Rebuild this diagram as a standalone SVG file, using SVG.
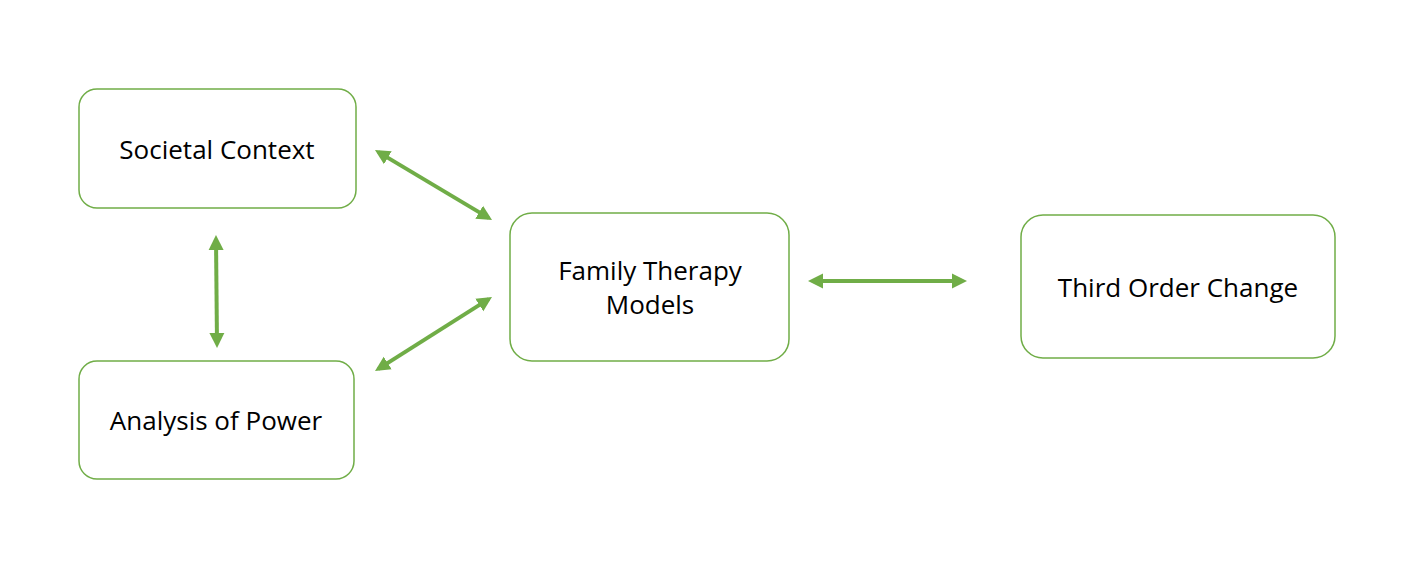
<svg xmlns="http://www.w3.org/2000/svg" width="1413" height="565" viewBox="0 0 1413 565">
<style>
.box{fill:#fff;stroke:#70ad47;stroke-width:1.5}
.lbl{font-family:"Open Sans","Noto Sans","Liberation Sans",sans-serif;font-size:26px;fill:#000;text-anchor:middle}
.con{stroke:#70ad47;stroke-width:4;fill:none;marker-start:url(#ah);marker-end:url(#ah)}
</style>
<defs>
<marker id="ah" markerUnits="userSpaceOnUse" markerWidth="18" markerHeight="18" viewBox="0 0 18 18" refX="11" refY="9" orient="auto-start-reverse">
<path d="M0,1.5 L15,9 L0,16.5 z" fill="#70ad47"/>
</marker>
</defs>
<rect width="1413" height="565" fill="#fff"/>
<g id="connectors">
<line class="con" x1="378.4" y1="152.1" x2="488.6" y2="217.9"/>
<line class="con" x1="378.4" y1="368.9" x2="488.6" y2="299.1"/>
<line class="con" x1="216" y1="239" x2="217" y2="344"/>
<line class="con" x1="812" y1="281" x2="963" y2="281"/>
</g>
<g id="societal-context">
<rect class="box" x="79" y="89" width="277" height="119" rx="18"/>
<text class="lbl" x="217" y="159">Societal Context</text>
</g>
<g id="analysis-of-power">
<rect class="box" x="79" y="361" width="275" height="118" rx="18"/>
<text class="lbl" x="216" y="430">Analysis of Power</text>
</g>
<g id="family-therapy-models">
<rect class="box" x="510" y="213" width="279" height="148" rx="22"/>
<text class="lbl" x="650" y="280">Family Therapy</text>
<text class="lbl" x="650" y="314">Models</text>
</g>
<g id="third-order-change">
<rect class="box" x="1021" y="215" width="314" height="143" rx="22"/>
<text class="lbl" x="1178" y="297">Third Order Change</text>
</g>
</svg>
